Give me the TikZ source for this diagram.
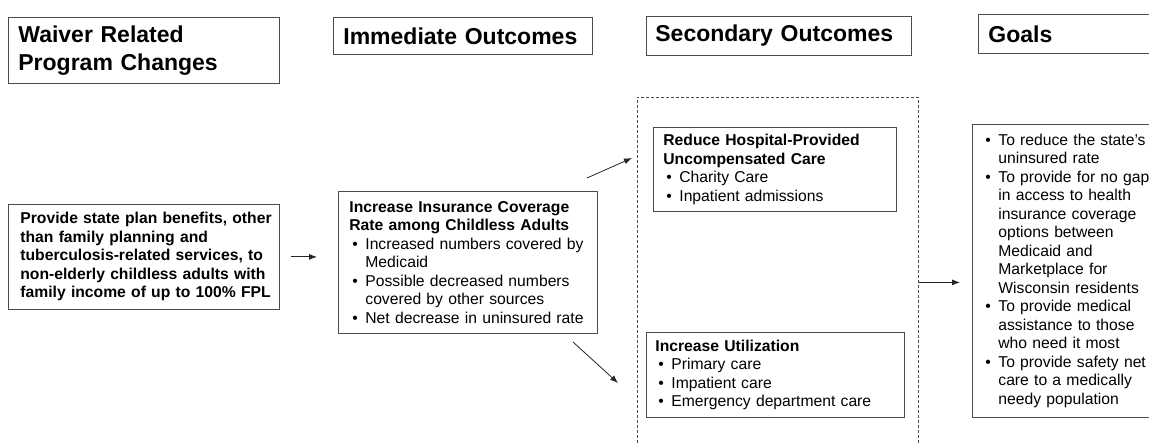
\documentclass[tikz,border=0pt]{standalone}
\usepackage{fontspec}
\setmainfont{Liberation Sans}
\usetikzlibrary{arrows.meta,positioning}

\newcommand{\bul}{\makebox[16pt][l]{\hspace{3pt}\textbullet}}
\newcommand{\ind}{\hspace*{16pt}}

\tikzset{
  head/.style={rectangle,draw=black!70,line width=0.8pt,anchor=north west,align=left,inner xsep=10pt,inner ysep=0pt,font=\fontsize{23}{28}\selectfont\bfseries},
  card/.style={rectangle,draw=black!70,line width=0.8pt,anchor=north west,align=left,inner xsep=10pt,inner ysep=0pt,font=\fontsize{15.7}{18.5}\selectfont},
  arr/.style={-{Latex[length=8pt,width=6pt]},line width=0.8pt,black!85}
}

\begin{document}
\begin{tikzpicture}[x=1pt,y=-1pt]
  \useasboundingbox (0,0) rectangle (1149,443);
  \clip (0,0) rectangle (1149,443);

  % column heads
  \node[head,text width=251pt,minimum height=66pt] (wrc) at (8,17) {Waiver Related\\Program Changes};
  \node[head,text width=239pt,minimum height=37pt] (imo) at (333,17) {Immediate Outcomes};
  \node[head,inner xsep=9pt,text width=247pt,minimum height=39pt] (sco) at (646,16) {Secondary Outcomes};
  \node[head,text width=180pt,minimum height=39pt] (gls) at (978,14) {Goals};

  % boxes
  \node[card,font=\fontsize{15.7}{18.5}\selectfont\bfseries,inner xsep=12pt,text width=247pt,minimum height=105pt] (pro) at (8,204)
    {\mbox{Provide state plan benefits, other}\\\mbox{than family planning and}\\\mbox{tuberculosis-related services, to}\\\mbox{non-elderly childless adults with}\\\mbox{family income of up to 100\% FPL}};
  \node[card,inner xsep=11pt,text width=237pt,minimum height=142pt] (ins) at (338,191)
    {\textbf{Increase Insurance Coverage}\\\textbf{Rate among Childless Adults}\\
     \bul Increased numbers covered by\\\ind Medicaid\\
     \bul Possible decreased numbers\\\ind covered by other sources\\
     \bul Net decrease in uninsured rate};
  \node[rectangle,draw=black!70,line width=0.8pt,dashed,dash pattern=on 3pt off 2pt,anchor=north west,minimum width=281pt,minimum height=370pt] (sec) at (637,97) {};
  \node[card,text width=223pt,minimum height=84pt] (hos) at (653,127)
    {\textbf{Reduce Hospital-Provided}\\\textbf{Uncompensated Care}\\
     \bul Charity Care\\
     \bul Inpatient admissions};
  \node[card,inner xsep=9pt,text width=240pt,minimum height=85pt] (utl) at (646,332)
    {\textbf{Increase Utilization}\\
     \bul Primary care\\
     \bul Impatient care\\
     \bul Emergency department care};
  \node[card,text width=180pt,minimum height=293pt] (gol) at (972,124)
    {\bul To reduce the state’s\\\ind uninsured rate\\
     \bul To provide for no gap\\\ind in access to health\\\ind insurance coverage\\\ind options between\\\ind Medicaid and\\\ind Marketplace for\\\ind Wisconsin residents\\
     \bul To provide medical\\\ind assistance to those\\\ind who need it most\\
     \bul To provide safety net\\\ind care to a medically\\\ind needy population};

  % arrows
  \coordinate (up1) at (587,178);
  \coordinate (up2) at (632,158);
  \coordinate (dn1) at (573,342);
  \coordinate (dn2) at (618,383);
  \draw[arr,shorten <=11pt,shorten >=21pt] (pro.east) -- (pro.east -| ins.west);
  \draw[arr] (up1) -- (up2);
  \draw[arr] (dn1) -- (dn2);
  \draw[arr,shorten >=12pt] (sec.east) -- (sec.east -| gol.west);
\end{tikzpicture}
\end{document}
